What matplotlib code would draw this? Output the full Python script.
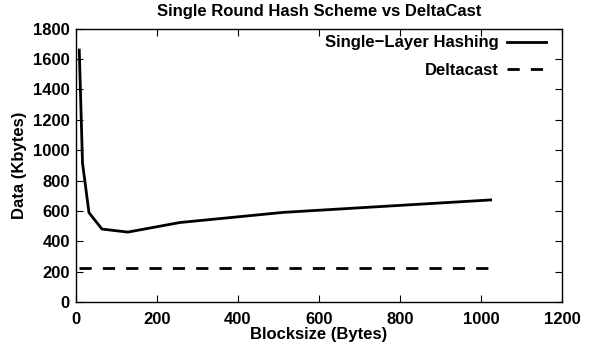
import numpy as np
import matplotlib.pyplot as plt

plt.rcParams['font.family'] = ['Liberation Sans', 'DejaVu Sans']
plt.rcParams['font.weight'] = 'bold'

blocksize = [8, 16, 32, 64, 128, 256, 512, 1024]
single_layer = [1660, 915, 588, 480, 460, 523, 590, 672]
deltacast = [225, 225, 225, 225, 225, 225, 225, 225]

fs = 12

fig = plt.figure(figsize=(5.94, 3.47), dpi=100)
ax = fig.add_axes([0.128, 0.130, 0.818, 0.787])

ax.plot(blocksize, single_layer, color='black', lw=2.0, label='Single\u2212Layer Hashing')
ax.plot(blocksize, deltacast, color='black', lw=2.0, dashes=(4.4, 4.0), label='Deltacast')

ax.set_xlim(0, 1200)
ax.set_ylim(0, 1800)
ax.set_xticks(np.arange(0, 1201, 200))
ax.set_yticks(np.arange(0, 1801, 200))
ax.tick_params(direction='in', top=True, right=True, length=5, width=0.8,
               labelsize=fs)
ax.tick_params(axis='x', pad=7)
ax.tick_params(axis='y', pad=4.5)
for lab in ax.get_xticklabels() + ax.get_yticklabels():
    lab.set_fontweight('bold')
for s in ax.spines.values():
    s.set_linewidth(1.0)

ax.set_xlabel('Blocksize (Bytes)', fontsize=fs, fontweight='bold', labelpad=0)
ax.set_ylabel('Data (Kbytes)', fontsize=fs, fontweight='bold', labelpad=4)
ax.set_title('Single Round Hash Scheme vs DeltaCast', fontsize=fs,
             fontweight='bold', pad=9)

leg = ax.legend(loc='upper right', frameon=False, markerfirst=False,
                handlelength=2.3, handletextpad=0.5, labelspacing=0.75,
                borderaxespad=0.0, bbox_to_anchor=(0.98, 1.0),
                prop={'size': fs, 'weight': 'bold'})

fig.savefig('out.png', dpi=100)
